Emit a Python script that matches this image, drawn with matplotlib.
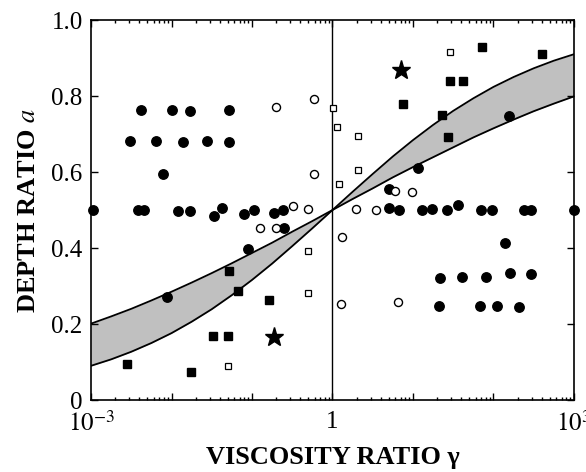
import matplotlib
matplotlib.use("Agg")
import matplotlib.pyplot as plt
import numpy as np
from matplotlib.ticker import LogLocator, NullFormatter

# filled circles (gamma, depth ratio)
fc_g = [0.00105, 0.00418, 0.0101, 0.0168, 0.0513, 0.00305, 0.00637, 0.0138, 0.0274, 0.0513,
        0.00794, 0.00387, 0.00455, 0.0119, 0.0171, 0.0334, 0.0428, 0.0789, 0.107, 0.1875,
        0.240, 0.248, 0.00887, 0.0899,
        156, 11.6, 5.03, 5.08, 6.76, 13.1, 17.4, 26.7, 36.6, 69.2, 96.6, 241, 290, 1000,
        139, 21.8, 41.0, 81.5, 159, 290, 21.0, 67.3, 110, 209]
fc_a = [0.50, 0.763, 0.763, 0.760, 0.763, 0.681, 0.682, 0.680, 0.682, 0.680,
        0.595, 0.50, 0.50, 0.497, 0.497, 0.483, 0.506, 0.489, 0.50, 0.491,
        0.50, 0.452, 0.272, 0.397,
        0.748, 0.611, 0.554, 0.504, 0.50, 0.50, 0.502, 0.50, 0.514, 0.50, 0.50, 0.50, 0.50, 0.50,
        0.414, 0.322, 0.325, 0.325, 0.333, 0.331, 0.247, 0.247, 0.247, 0.245]

# open circles
oc_g = [0.1986, 0.326, 0.1256, 0.1986, 0.589, 0.589, 0.501, 1.96, 3.47, 6.03, 9.62, 1.30, 1.276, 6.46]
oc_a = [0.770, 0.511, 0.453, 0.452, 0.791, 0.595, 0.502, 0.502, 0.499, 0.551, 0.548, 0.430, 0.252, 0.258]

# open squares
os_g = [1.02, 1.127, 2.094, 2.094, 1.205, 29.1, 0.492, 0.492, 0.0508]
os_a = [0.768, 0.718, 0.695, 0.605, 0.569, 0.917, 0.393, 0.282, 0.090]

# filled squares
fs_g = [71.3, 404, 29.1, 42.3, 7.45, 22.7, 27.2, 0.00277, 0.0173, 0.0330, 0.0508, 0.0522, 0.0676, 0.161]
fs_a = [0.928, 0.911, 0.839, 0.839, 0.779, 0.751, 0.692, 0.094, 0.075, 0.168, 0.168, 0.339, 0.288, 0.262]

# stars
st_g = [7.10, 0.189]
st_a = [0.868, 0.165]

# band bounds, read every quarter decade from 10^-3 to 10^3
band_logg = [-3, -2.75, -2.5, -2.25, -2, -1.75, -1.5, -1.25, -1, -0.75, -0.5, -0.25, 0,
             0.25, 0.5, 0.75, 1, 1.25, 1.5, 1.75, 2, 2.25, 2.5, 2.75, 3]
band_upper = [0.201, 0.220, 0.240, 0.262, 0.285, 0.309, 0.334, 0.360, 0.387, 0.414, 0.443, 0.471, 0.500,
              0.548, 0.595, 0.641, 0.684, 0.724, 0.761, 0.794, 0.824, 0.850, 0.873, 0.893, 0.910]
band_lower = [0.090, 0.107, 0.127, 0.150, 0.176, 0.206, 0.239, 0.276, 0.316, 0.359, 0.405, 0.452, 0.500,
              0.529, 0.557, 0.586, 0.613, 0.639, 0.665, 0.691, 0.715, 0.738, 0.760, 0.780, 0.799]

xtick_labels = ["$10^{-3}$", "", "", "1", "", "", "$10^{3}$"]
ytick_labels = ["0", "0.2", "0.4", "0.6", "0.8", "1.0"]


def main():
    plt.rcParams["font.family"] = ["Liberation Serif", "DejaVu Serif"]
    plt.rcParams["mathtext.fontset"] = "stix"

    fig = plt.figure(figsize=(5.86, 4.72), dpi=100)
    ax = fig.add_axes([0.1553, 0.1525, 0.8242, 0.8051])

    bg = 10.0 ** np.array(band_logg)
    ax.fill_between(bg, band_lower, band_upper, color="#c0c0c0", lw=0)
    ax.plot(bg, band_upper, "-k", lw=1.3)
    ax.plot(bg, band_lower, "-k", lw=1.3)
    ax.axvline(1.0, color="k", lw=1.0)

    ax.plot(fc_g, fc_a, "o", color="k", ms=6.8, clip_on=False, zorder=5)
    ax.plot(oc_g, oc_a, "o", mfc="white", mec="k", mew=1.0, ms=5.8, clip_on=False, zorder=5)
    ax.plot(os_g, os_a, "s", mfc="white", mec="k", mew=0.9, ms=4.5, clip_on=False, zorder=5)
    ax.plot(fs_g, fs_a, "s", color="k", ms=5.2, clip_on=False, zorder=5)
    ax.plot(st_g, st_a, "*", color="k", ms=14, clip_on=False, zorder=5)

    ax.set_xscale("log")
    ax.set_xlim(1e-3, 1e3)
    ax.set_ylim(0, 1)
    ax.set_xticks([1e-3, 1e-2, 1e-1, 1, 1e1, 1e2, 1e3])
    ax.set_xticklabels(xtick_labels)
    ax.xaxis.set_minor_locator(LogLocator(base=10, subs=np.arange(2, 10), numticks=20))
    ax.xaxis.set_minor_formatter(NullFormatter())
    ax.set_yticks([0, 0.2, 0.4, 0.6, 0.8, 1.0])
    ax.set_yticklabels(ytick_labels)

    ax.tick_params(which="both", direction="in", top=True, right=True, labelsize=18, width=1.0)
    ax.tick_params(which="major", length=5, pad=6)
    ax.tick_params(axis="x", which="major", pad=8)
    ax.tick_params(which="minor", length=2.5)
    for s in ax.spines.values():
        s.set_linewidth(1.2)

    ax.set_xlabel("VISCOSITY RATIO \u03b3", fontsize=19, fontweight="bold", labelpad=7)
    ax.set_ylabel("DEPTH RATIO $a$", fontsize=19, fontweight="bold", labelpad=8)

    fig.savefig("out.png", dpi=100)


if __name__ == "__main__":
    main()
